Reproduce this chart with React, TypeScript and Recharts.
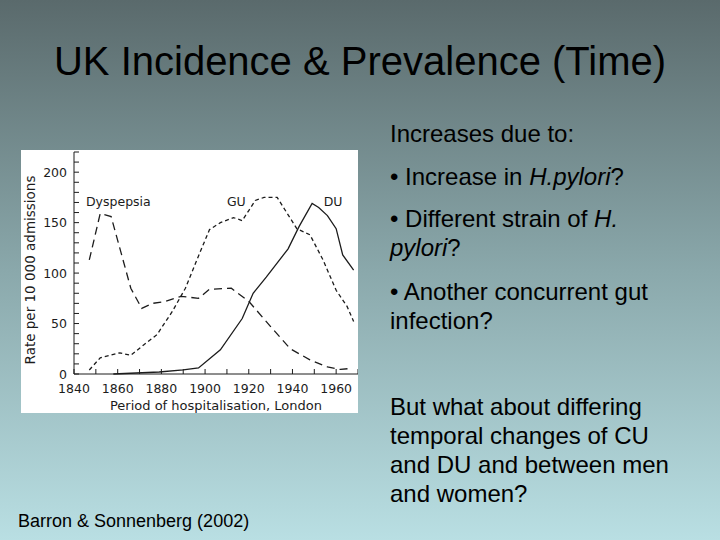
import React from "react";
import { LineChart, Line, XAxis, YAxis, ReferenceDot, Label } from "recharts";

// Barron & Sonnenberg: ulcer / dyspepsia admissions, London 1840–1970

const dyspepsiaYears = [1847, 1852, 1857, 1866, 1871, 1876, 1882, 1889, 1897, 1902, 1912, 1920, 1930, 1939, 1948, 1956, 1962, 1967];
const dyspepsiaRates = [113, 159, 156, 85, 65, 70, 72, 77, 75, 84, 85, 72, 47, 25, 14, 7, 4.5, 5.6];

const guYears = [1847, 1852, 1861, 1866, 1872, 1878, 1885, 1891, 1897, 1902, 1907, 1913, 1917, 1920, 1923, 1927, 1933, 1942, 1948, 1954, 1960, 1965, 1968];
const guRates = [4, 16, 21, 18.5, 29, 39, 62, 85, 117, 143, 150, 155, 152, 162, 172, 175, 175, 144, 138, 113, 83, 67, 52];

const duYears = [1858, 1879, 1890, 1897, 1907, 1917, 1922, 1928, 1938, 1943, 1949, 1952, 1956, 1960, 1963, 1968];
const duRates = [0, 2, 4, 6, 24, 55, 80, 96, 124, 146, 169, 165, 157, 144, 118, 103];

const xTicks = [1840, 1850, 1860, 1870, 1880, 1890, 1900, 1910, 1920, 1930, 1940, 1950, 1960, 1970];
const yTicks = [0, 10, 20, 30, 40, 50, 60, 70, 80, 90, 100, 110, 120, 130, 140, 150, 160, 170, 180, 190, 200, 210, 220];

const seriesLabels = [
  { text: "Dyspepsia", year: 1860.3, rate: 171 },
  { text: "GU", year: 1914.3, rate: 171 },
  { text: "DU", year: 1958.6, rate: 171 },
];

const toPoints = (years: number[], rates: number[]) => years.map((year, i) => ({ year, value: rates[i] }));

const ink = "#1c1c1c";
const chartFont = "'DejaVu Sans', Verdana, sans-serif";

function YTick(props: any) {
  const { x, y, payload } = props;
  return (
    <g>
      <line x1={x} x2={x + 5} y1={y} y2={y} stroke={ink} strokeWidth={1} />
      {payload.value % 50 === 0 && (
        <text x={x - 7} y={y + 4.5} textAnchor="end" fontSize={12.5} fill={ink} fontFamily={chartFont}>
          {payload.value}
        </text>
      )}
    </g>
  );
}

function XTick(props: any) {
  const { x, y, payload } = props;
  return (
    <g>
      <line x1={x} x2={x} y1={y} y2={y - 5} stroke={ink} strokeWidth={1} />
      {payload.value % 20 === 0 && payload.value < 1970 && (
        <text x={x} y={y + 19} textAnchor="middle" fontSize={12.5} fill={ink} fontFamily={chartFont}>
          {payload.value}
        </text>
      )}
    </g>
  );
}

function Chart() {
  return (
    <LineChart width={337} height={263} margin={{ top: 2, right: 0, bottom: 0, left: 0 }}>
      <XAxis
        dataKey="year"
        type="number"
        domain={[1840, 1970]}
        ticks={xTicks}
        interval={0}
        tickSize={0}
        tickMargin={0}
        tickLine={false}
        tick={<XTick />}
        stroke={ink}
        height={39}
        allowDuplicatedCategory={false}
      >
        <Label
          content={({ viewBox }: any) => (
            <text x={viewBox.x + viewBox.width / 2} y={viewBox.y + 36} textAnchor="middle" fontSize={13} fill={ink} fontFamily={chartFont}>
              Period of hospitalisation, London
            </text>
          )}
        />
      </XAxis>
      <YAxis
        type="number"
        domain={[0, 220]}
        ticks={yTicks}
        interval={0}
        tickSize={0}
        tickMargin={0}
        tickLine={false}
        tick={<YTick />}
        stroke={ink}
        width={53}
      >
        <Label
          content={({ viewBox }: any) => (
            <text
              x={14}
              y={viewBox.y + 118}
              transform={`rotate(-90, 14, ${viewBox.y + 118})`}
              textAnchor="middle"
              fontSize={13.5}
              fill={ink}
              fontFamily={chartFont}
            >
              Rate per 10 000 admissions
            </text>
          )}
        />
      </YAxis>
      <Line data={toPoints(dyspepsiaYears, dyspepsiaRates)} dataKey="value" type="linear" stroke={ink} strokeWidth={1.3} strokeDasharray="8 5" dot={false} isAnimationActive={false} />
      <Line data={toPoints(guYears, guRates)} dataKey="value" type="linear" stroke={ink} strokeWidth={1.3} strokeDasharray="4 3" dot={false} isAnimationActive={false} />
      <Line data={toPoints(duYears, duRates)} dataKey="value" type="linear" stroke={ink} strokeWidth={1.3} dot={false} isAnimationActive={false} />
      {seriesLabels.map((l) => (
        <ReferenceDot
          key={l.text}
          x={l.year}
          y={l.rate}
          r={0}
          fill="none"
          stroke="none"
          label={{ value: l.text, position: "center", fontSize: 12.5, fill: ink, fontFamily: chartFont }}
        />
      ))}
    </LineChart>
  );
}

const textLine: React.CSSProperties = { position: "absolute", left: 390, fontSize: 24, lineHeight: "29px", whiteSpace: "nowrap" };

export default function App() {
  return (
    <div
      style={{
        position: "absolute",
        left: 0,
        top: 0,
        width: 720,
        height: 540,
        overflow: "hidden",
        background: "linear-gradient(to bottom, #5a6a6c 0%, #8aa8ab 50%, #b9dfe3 100%)",
        fontFamily: "'Liberation Sans', Arial, sans-serif",
        color: "#000",
      }}
    >
      <div style={{ position: "absolute", left: 0, top: 41, width: 720, textAlign: "center", fontSize: 40, lineHeight: "40px", whiteSpace: "nowrap" }}>
        UK Incidence &amp; Prevalence (Time)
      </div>

      <div style={{ position: "absolute", left: 21, top: 150, width: 337, height: 263, background: "#fff" }}>
        <Chart />
      </div>

      <div style={{ ...textLine, top: 118.7 }}>Increases due to:</div>
      <div style={{ ...textLine, top: 162.2 }}>
        • Increase in <i>H.pylori</i>?
      </div>
      <div style={{ ...textLine, top: 204.2 }}>
        • Different strain of <i>H.</i>
        <br />
        <i>pylori</i>?
      </div>
      <div style={{ ...textLine, top: 277.2 }}>
        • Another concurrent gut
        <br />
        infection?
      </div>
      <div style={{ ...textLine, top: 392.2 }}>
        But what about differing
        <br />
        temporal changes of CU
        <br />
        and DU and between men
        <br />
        and women?
      </div>

      <div style={{ position: "absolute", left: 18, top: 511.5, fontSize: 18, lineHeight: "18px", whiteSpace: "nowrap" }}>
        Barron &amp; Sonnenberg (2002)
      </div>
    </div>
  );
}
